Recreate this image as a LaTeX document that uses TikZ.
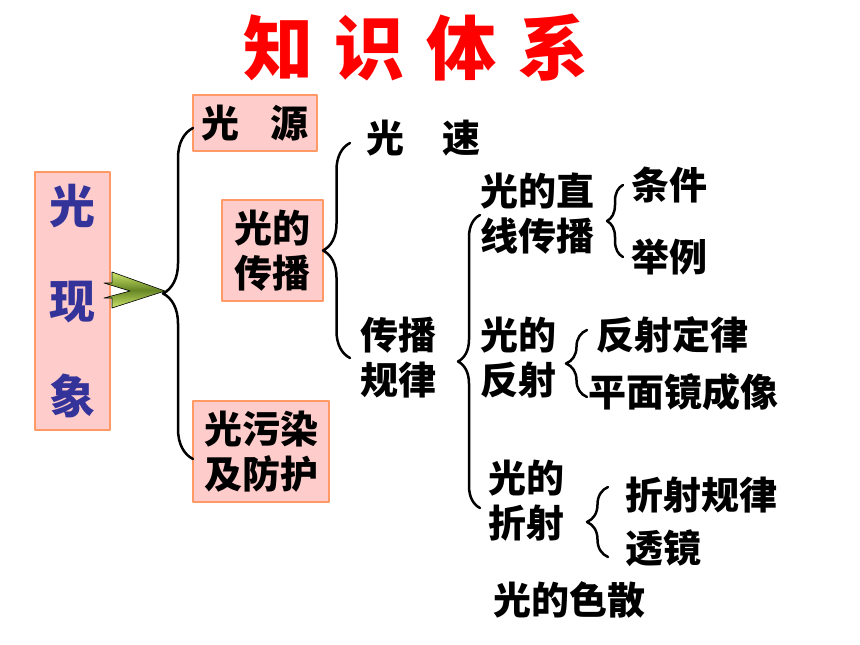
\documentclass[tikz,border=0pt]{standalone}
\usepackage{fontspec}
\setmainfont{Noto Sans CJK SC}
\usetikzlibrary{decorations.pathreplacing}
\definecolor{boxpink}{rgb}{1,0.8,0.8}
\definecolor{boxorange}{rgb}{1,0.6,0.4}
\definecolor{titlered}{rgb}{1,0,0}
\definecolor{darkblue}{rgb}{0.2,0.2,0.6}
\definecolor{arrowlight}{rgb}{0.8,0.9,0.42}
\definecolor{arrowdark}{rgb}{0.4,0.52,0.14}

\begin{document}
\begin{tikzpicture}[line cap=round,line join=round,x=1pt,y=-1pt,
  box/.style={draw=boxorange,fill=boxpink,line width=1.2pt,inner sep=0pt,align=center},
  txt/.style={inner sep=0pt,anchor=west,align=left,font=\fontsize{38}{45}\selectfont\bfseries},
  brc/.style={decorate,decoration={brace,amplitude=#1},line width=2.5pt}]
\useasboundingbox (0,0) rectangle (860,645);
\node[text=titlered,font=\fontsize{70}{70}\selectfont\bfseries] (title) at (416,48) {知\hspace{22pt}识\hspace{22pt}体\hspace{22pt}系};
\node[box,minimum width=75pt,minimum height=258pt,text=darkblue,font=\fontsize{46}{95}\selectfont\bfseries] (xian) at (72.5,301) {光\\现\\象};
\node[box,minimum width=124pt,minimum height=56pt,font=\fontsize{38}{45}\selectfont\bfseries] (yuan) at (255,123) {光\hspace{32pt}源};
\node[box,minimum width=101pt,minimum height=101pt,font=\fontsize{38}{45}\selectfont\bfseries] (chuanbo) at (272.5,250.5) {光的\\传播};
\node[box,minimum width=136pt,minimum height=101pt,font=\fontsize{38}{45}\selectfont\bfseries] (wuran) at (261,451.5) {光污染\\及防护};
\node[txt] (su) at (366,138) {光\hspace{38pt}速};
\node[txt] (guilv) at (360,358) {传播\\规律};
\node[txt] (zhixian) at (480,214) {光的直\\线传播};
\node[txt] (tiaojian) at (631,185) {条件};
\node[txt] (juli) at (631,257) {举例};
\node[txt] (fanshe) at (480,358) {光的\\反射};
\node[txt] (dinglv) at (596,335) {反射定律};
\node[txt] (pingmian) at (588,392) {平面镜成像};
\node[txt] (zheshe) at (488,501) {光的\\折射};
\node[txt] (zheguilv) at (625,495) {折射规律};
\node[txt] (toujing) at (625,548) {透镜};
\node[txt] (sesan) at (493,600) {光的色散};
\coordinate (b1t) at (193,128);
\coordinate (b1b) at (193,459);
\coordinate (b2t) at (350,143);
\coordinate (b2b) at (350,358);
\coordinate (b3t) at (480,215);
\coordinate (b3b) at (480,508);
\coordinate (b4t) at (623,185);
\coordinate (b4b) at (623,257);
\coordinate (b5t) at (587,330);
\coordinate (b5b) at (587,397);
\coordinate (b6t) at (608,487);
\coordinate (b6b) at (608,557);
\draw[brc=30pt] (b1b) -- (b1t);
\draw[brc=27pt] (b2b) -- (b2t);
\draw[brc=22pt] (b3b) -- (b3t);
\draw[brc=16pt] (b4b) -- (b4t);
\draw[brc=21pt] (b5b) -- (b5t);
\draw[brc=21pt] (b6b) -- (b6t);
\draw[line width=0.6pt,top color=arrowlight,bottom color=arrowlight,middle color=arrowdark] (112,272) -- (165,291) -- (112,308) -- (112,298) -- (104,298) -- (130,291) -- (104,283) -- (112,283) -- cycle;
\end{tikzpicture}
\end{document}
